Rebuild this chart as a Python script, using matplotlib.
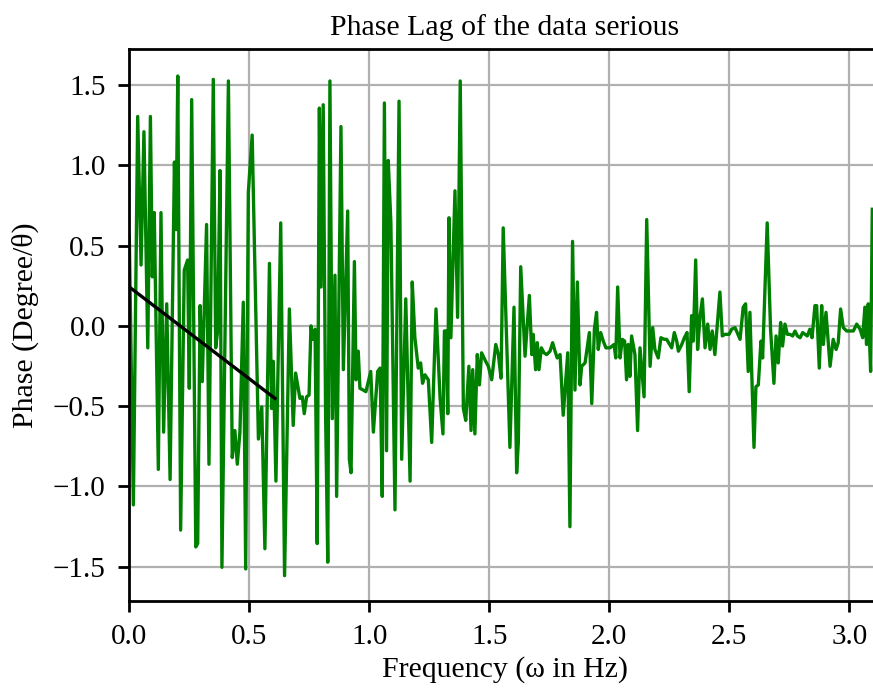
import matplotlib
matplotlib.use('Agg')
import matplotlib.pyplot as plt
import numpy as np

plt.rcParams['font.family'] = ['Liberation Serif', 'DejaVu Serif']

##Phase lag data##
freq = [0.000, 0.017, 0.035, 0.049, 0.061, 0.077, 0.088, 0.096, 0.104, 0.121,
        0.132, 0.143, 0.156, 0.170, 0.188, 0.195, 0.202, 0.214, 0.229, 0.243,
        0.250, 0.260, 0.277, 0.285, 0.295, 0.304, 0.322, 0.332, 0.350, 0.360,
        0.368, 0.378, 0.386, 0.413, 0.429, 0.440, 0.450, 0.461, 0.475, 0.485,
        0.496, 0.512,
        0.538, 0.552, 0.565, 0.584, 0.593, 0.600, 0.611, 0.631, 0.647, 0.667,
        0.683, 0.693, 0.711, 0.721, 0.729, 0.739, 0.749, 0.757, 0.764, 0.774,
        0.783, 0.792, 0.799, 0.808, 0.818, 0.827, 0.836, 0.846, 0.857, 0.864,
        0.882, 0.892, 0.910, 0.917, 0.924, 0.938, 0.945, 0.954, 0.961, 0.975,
        0.986, 1.006, 1.017,
        1.035, 1.045, 1.054, 1.063, 1.072, 1.079, 1.090, 1.107, 1.124, 1.135,
        1.152, 1.170, 1.179, 1.190, 1.204, 1.214, 1.222, 1.232, 1.246, 1.260,
        1.278, 1.295, 1.307, 1.313, 1.320, 1.327, 1.332, 1.340, 1.357, 1.368,
        1.379, 1.392, 1.402, 1.415, 1.424, 1.431, 1.440, 1.450, 1.459, 1.468,
        1.485, 1.496, 1.510, 1.527, 1.538, 1.549, 1.558,
        1.586, 1.603, 1.614, 1.621, 1.631, 1.649, 1.667, 1.677, 1.683, 1.693,
        1.700, 1.707, 1.717, 1.728, 1.739, 1.753, 1.764, 1.774, 1.783, 1.795,
        1.808, 1.827, 1.836, 1.847, 1.857, 1.867, 1.878, 1.885, 1.899, 1.917,
        1.927, 1.938, 1.947, 1.954, 1.964, 1.975, 1.986, 2.003, 2.020, 2.027,
        2.035, 2.045, 2.054, 2.064, 2.072, 2.079,
        2.086, 2.093, 2.107, 2.118, 2.128, 2.145, 2.156, 2.170, 2.181, 2.190,
        2.204, 2.215, 2.229, 2.239, 2.260, 2.271, 2.281, 2.288, 2.302, 2.313,
        2.324, 2.333, 2.343, 2.350, 2.360, 2.368, 2.378, 2.388, 2.399, 2.410,
        2.420, 2.429, 2.440, 2.461, 2.471, 2.482, 2.499, 2.510, 2.524, 2.545,
        2.558, 2.568, 2.579, 2.586, 2.603,
        2.611, 2.621, 2.632, 2.639, 2.658, 2.672, 2.686, 2.695, 2.704, 2.714,
        2.722, 2.732, 2.742, 2.753, 2.764, 2.774, 2.784, 2.795, 2.806, 2.825,
        2.836, 2.845, 2.857, 2.864, 2.875, 2.885, 2.892, 2.903, 2.920, 2.933,
        2.945, 2.954, 2.964, 2.975, 2.989, 3.003, 3.017, 3.031, 3.045, 3.056,
        3.065, 3.072, 3.079, 3.089, 3.096]

phase = [0.557, -1.115, 1.304, 0.379, 1.209, -0.137, 1.304, 0.305, 0.705, -0.894,
         0.705, -0.662, 0.137, -0.957, 1.020, 0.599, 1.556, -1.272, 0.347, 0.410,
         -0.389, 1.409, -1.377, -1.356, 0.126, -0.347, 0.631, -0.862, 1.535, -0.137,
         -0.032, 0.967, -1.504, 1.525, -0.820, -0.652, -0.862, -0.662, 0.147, -1.514,
         0.831, 1.188,
         -0.705, -0.505, -1.388, 0.389, -0.515, -0.221, -0.967, 0.641, -1.556, 0.105,
         -0.620, -0.294, -0.452, -0.442, -0.547, -0.442, -0.431, 0.000, -0.084, -0.021,
         -1.356, 1.356, 0.242, 1.377, -0.557, -1.472, 1.525, -0.578, 0.315, -1.062,
         1.241, -0.273, 0.715, -0.831, -0.915, 0.400, -0.336, -0.158, -0.389, -0.400,
         -0.410, -0.284, -0.662,
         -0.284, -0.263, -1.062, 1.388, -0.778, 1.030, 0.641, -1.146, 1.399, -0.831,
         0.168, -0.967, 0.273, -0.074, -0.263, -0.231, -0.358, -0.305, -0.336, -0.726,
         0.105, -0.452, -0.673, -0.032, -0.032, -0.547, 0.673, -0.074, 0.841, 0.053,
         1.525, -0.515, -0.589, -0.252, -0.652, -0.273, -0.673, -0.179, -0.368, -0.168,
         -0.221, -0.252, -0.336, -0.116, -0.179, -0.326, 0.610,
         -0.757, 0.116, -0.915, -0.726, 0.368, -0.189, 0.189, -0.179, -0.053, -0.273,
         -0.105, -0.273, -0.137, -0.168, -0.179, -0.158, -0.105, -0.158, -0.200, -0.179,
         -0.557, -0.168, -1.251, 0.526, -0.400, 0.273, -0.368, -0.252, -0.231, -0.042,
         -0.484, -0.021, 0.084, -0.147, -0.042, -0.095, -0.137, -0.137, -0.116, -0.200,
         0.242, -0.200, -0.084, -0.095, -0.336, -0.116,
         -0.315, -0.063, -0.179, -0.652, -0.137, -0.442, 0.662, -0.252, -0.011, -0.147,
         -0.200, -0.074, -0.084, -0.084, -0.137, -0.042, -0.095, -0.158, -0.116, -0.074,
         -0.042, -0.410, 0.063, -0.095, 0.410, -0.147, 0.053, 0.168, -0.137, 0.011,
         -0.147, -0.032, -0.179, 0.210, -0.063, -0.053, -0.053, -0.021, -0.011, -0.084,
         0.116, 0.137, -0.284, 0.084, -0.757,
         -0.379, -0.368, -0.095, -0.200, 0.641, -0.021, -0.358, -0.063, -0.231, 0.021,
         -0.126, 0.011, -0.053, -0.053, -0.063, -0.032, -0.063, -0.074, -0.042, -0.063,
         -0.021, -0.074, 0.126, 0.126, -0.263, 0.126, -0.116, 0.084, -0.252, -0.084,
         -0.147, -0.105, 0.105, -0.011, -0.032, -0.032, -0.032, 0.011, -0.021, -0.074,
         0.116, -0.116, 0.137, -0.284, 0.726]

# linear fit drawn over the low frequency part
fit_freq = [0.0, 0.607]
fit_phase = [0.242, -0.452]


def main():
    fig = plt.figure(figsize=(8.73, 6.94), dpi=100)
    # axes runs a little past the right edge, like the cropped original
    ax = fig.add_axes([0.1481, 0.1344, 0.861, 0.7945])

    ax.plot(freq, phase, color='green', linewidth=2.4, zorder=2)
    ax.plot(fit_freq, fit_phase, color='black', linewidth=2.4, zorder=3)

    ax.set_xlim(0, 3.132)
    ax.set_ylim(-1.712, 1.722)
    ax.set_xticks([0.0, 0.5, 1.0, 1.5, 2.0, 2.5, 3.0])
    ax.set_yticks([-1.5, -1.0, -0.5, 0.0, 0.5, 1.0, 1.5])
    ax.grid(True, color='#b0b0b0', linewidth=1.6)
    ax.set_axisbelow(True)

    for s in ax.spines.values():
        s.set_linewidth(2.0)
    ax.spines['right'].set_visible(False)
    ax.tick_params(labelsize=21, length=8, width=2.0, pad=9)

    ax.set_title('Phase Lag of the data serious', fontsize=21.5, pad=10)
    ax.set_xlabel('Frequency (\u03c9 in Hz)', fontsize=21.5, labelpad=4)
    ax.set_ylabel('Phase (Degree/\u03b8)', fontsize=21.5, labelpad=10)

    fig.savefig('out.png', dpi=100)


if __name__ == "__main__":
    main()
